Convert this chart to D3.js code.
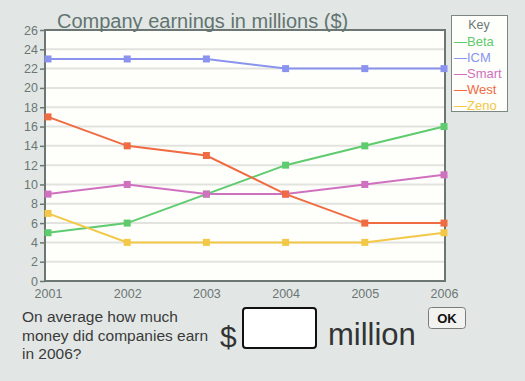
<!DOCTYPE html>
<html><head><meta charset="utf-8">
<script src="https://cdn.jsdelivr.net/npm/d3@7"></script>
<style>
body{margin:0;background:#e2e7e6;}
svg{display:block;}
</style></head>
<body>
<svg id="c" width="525" height="381"></svg>
<script>
const years = ["2001","2002","2003","2004","2005","2006"];
const seriesNames = ["Beta","ICM","Smart","West","Zeno"];
const beta  = [5, 6, 9, 12, 14, 16];
const icm   = [23, 23, 23, 22, 22, 22];
const smart = [9, 10, 9, 9, 10, 11];
const west  = [17, 14, 13, 9, 6, 6];
const zeno  = [7, 4, 4, 4, 4, 5];
const yTicks = [0,2,4,6,8,10,12,14,16,18,20,22,24,26];
const colors = ["#5ecb6e","#8a94ee","#d071c0","#f06a42","#f2c846"];
const allSeries = [beta, icm, smart, west, zeno];

const svg = d3.select("#c");
const pL = 45, pR = 445, pT = 30, pB = 281;
const x = d3.scalePoint().domain(years).range([48, 444]);
const y = d3.scaleLinear().domain([0, 26]).range([pB, pT]);
const FONT = "Liberation Sans, Arial, sans-serif";

// plot background
svg.append("rect").attr("x", pL).attr("y", pT).attr("width", pR-pL).attr("height", pB-pT)
  .attr("fill", "#fefefb");
// gridlines
svg.append("g").selectAll("line").data(yTicks.filter(d=>d>0)).join("line")
  .attr("x1", pL).attr("x2", pR)
  .attr("y1", d=>y(d)).attr("y2", d=>y(d))
  .attr("stroke", "#e2e2de").attr("stroke-width", 2);
// border
svg.append("rect").attr("x", pL).attr("y", pT).attr("width", pR-pL).attr("height", pB-pT)
  .attr("fill", "none").attr("stroke", "#6c7673").attr("stroke-width", 2);

// y axis
const yAxis = d3.axisLeft(y).tickValues(yTicks).tickSize(5).tickPadding(2);
const ga = svg.append("g").attr("transform", `translate(${pL},0)`).call(yAxis);
ga.select(".domain").remove();
ga.selectAll(".tick line").attr("stroke", "#6c7673").attr("stroke-width", 1.5);
ga.selectAll("text").attr("fill", "#6c7673").attr("font-family", FONT).attr("font-size", 12.5);

// x axis
const xAxis = d3.axisBottom(x).tickSize(0).tickPadding(8);
const gx = svg.append("g").attr("transform", `translate(0,${pB})`).call(xAxis);
gx.select(".domain").remove();
gx.selectAll("text").attr("fill", "#6c7673").attr("font-family", FONT).attr("font-size", 12.5);

// lines
const line = d3.line().x((d,i)=>x(years[i])).y(d=>y(d));
allSeries.forEach((s, k) => {
  svg.append("path").attr("d", line(s)).attr("fill", "none")
    .attr("stroke", colors[k]).attr("stroke-width", 2);
  svg.append("g").selectAll("rect").data(s).join("rect")
    .attr("x", (d,i)=>x(years[i]) - 3.5).attr("y", d=>y(d) - 3.5)
    .attr("width", 7).attr("height", 7).attr("fill", colors[k]);
});

// title
svg.append("text").attr("x", 57).attr("y", 28).text("Company earnings in millions ($)")
  .attr("fill", "#627470").attr("font-family", FONT).attr("font-size", 20);

// legend
const lg = svg.append("g");
lg.append("rect").attr("x", 451.5).attr("y", 15.5).attr("width", 56).attr("height", 96)
  .attr("fill", "#fefefb").attr("stroke", "#7c8683").attr("stroke-width", 1);
lg.append("text").attr("x", 479).attr("y", 29).attr("text-anchor", "middle").text("Key")
  .attr("fill", "#6c7673").attr("font-family", FONT).attr("font-size", 12.5);
seriesNames.forEach((n, k) => {
  lg.append("text").attr("x", 454).attr("y", 46 + k*15.9).text("\u2014" + n)
    .attr("fill", colors[k]).attr("font-family", FONT).attr("font-size", 13);
});

// question
const q = svg.append("text").attr("font-family", FONT).attr("font-size", 15.5).attr("fill", "#3a3a3a");
["On average how much","money did companies earn","in 2006?"].forEach((t,i)=>{
  q.append("tspan").attr("x", 22).attr("y", 322 + i*18.5).text(t);
});
svg.append("text").attr("x", 220).attr("y", 347).text("$")
  .attr("font-family", FONT).attr("font-size", 30).attr("fill", "#333");
svg.append("rect").attr("x", 243).attr("y", 308).attr("width", 73).attr("height", 40).attr("rx", 3)
  .attr("fill", "#fff").attr("stroke", "#111").attr("stroke-width", 2);
svg.append("text").attr("x", 328).attr("y", 345).text("million")
  .attr("font-family", FONT).attr("font-size", 31).attr("fill", "#333");
svg.append("rect").attr("x", 428.5).attr("y", 307.5).attr("width", 37).attr("height", 21).attr("rx", 3)
  .attr("fill", "#f2f2f0").attr("stroke", "#7a7a7a").attr("stroke-width", 1);
svg.append("text").attr("x", 447).attr("y", 323).attr("text-anchor", "middle").text("OK")
  .attr("font-family", FONT).attr("font-weight", "bold").attr("font-size", 13).attr("fill", "#111");
</script>
</body></html>
